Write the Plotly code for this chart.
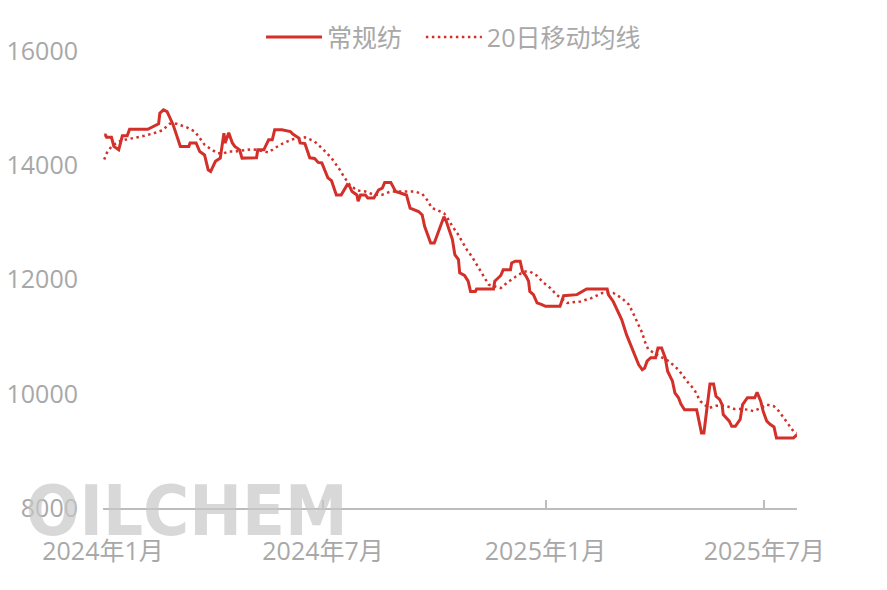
import plotly.graph_objects as go

# 常规纺 price (vertices)
price_dates = [
    "2024-01-02", "2024-01-03", "2024-01-04", "2024-01-08", "2024-01-10", "2024-01-14",
    "2024-01-17", "2024-01-21", "2024-01-23", "2024-02-07", "2024-02-16", "2024-02-17",
    "2024-02-20", "2024-02-23", "2024-02-28", "2024-03-02", "2024-03-05", "2024-03-12",
    "2024-03-13", "2024-03-18", "2024-03-21", "2024-03-25", "2024-03-28", "2024-03-30",
    "2024-04-03", "2024-04-07", "2024-04-10", "2024-04-11", "2024-04-14", "2024-04-17",
    "2024-04-19", "2024-04-23", "2024-04-25", "2024-05-07", "2024-05-08", "2024-05-13",
    "2024-05-15", "2024-05-17", "2024-05-20", "2024-05-22", "2024-05-28", "2024-06-04",
    "2024-06-06", "2024-06-11", "2024-06-12", "2024-06-16", "2024-06-20", "2024-06-24",
    "2024-06-27", "2024-06-30", "2024-07-05", "2024-07-08", "2024-07-12", "2024-07-16",
    "2024-07-21", "2024-07-23", "2024-07-25", "2024-07-29", "2024-07-30", "2024-08-01",
    "2024-08-05", "2024-08-07", "2024-08-12", "2024-08-16", "2024-08-19", "2024-08-21",
    "2024-08-26", "2024-08-30", "2024-09-08", "2024-09-11", "2024-09-18", "2024-09-21",
    "2024-09-23", "2024-09-26", "2024-09-28", "2024-10-01", "2024-10-09", "2024-10-11",
    "2024-10-14", "2024-10-16", "2024-10-18", "2024-10-21", "2024-10-22", "2024-10-26",
    "2024-10-29", "2024-10-31", "2024-11-04", "2024-11-05", "2024-11-19", "2024-11-20",
    "2024-11-25", "2024-11-27", "2024-12-03", "2024-12-04", "2024-12-07", "2024-12-11",
    "2024-12-13", "2024-12-16", "2024-12-18", "2024-12-19", "2024-12-22", "2024-12-25",
    "2024-12-29", "2025-01-01", "2025-01-13", "2025-01-16", "2025-01-27", "2025-02-04",
    "2025-02-21", "2025-02-22", "2025-02-26", "2025-03-02", "2025-03-05", "2025-03-09",
    "2025-03-14", "2025-03-16", "2025-03-19", "2025-03-22", "2025-03-24", "2025-03-26",
    "2025-03-29", "2025-04-02", "2025-04-04", "2025-04-07", "2025-04-10", "2025-04-12",
    "2025-04-16", "2025-04-18", "2025-04-21", "2025-04-23", "2025-04-26", "2025-05-06",
    "2025-05-09", "2025-05-10", "2025-05-12", "2025-05-15", "2025-05-17", "2025-05-20",
    "2025-05-22", "2025-05-25", "2025-05-27", "2025-05-28", "2025-06-02", "2025-06-04",
    "2025-06-07", "2025-06-11", "2025-06-13", "2025-06-17", "2025-06-23", "2025-06-25",
    "2025-06-28", "2025-06-30", "2025-07-03", "2025-07-06", "2025-07-09", "2025-07-11",
    "2025-07-25", "2025-07-28",
]
price_values = [
    14530, 14530, 14490, 14490, 14330, 14270,
    14515, 14515, 14630, 14630, 14725, 14910,
    14970, 14940, 14710, 14500, 14330, 14330,
    14390, 14390, 14240, 14180, 13920, 13890,
    14070, 14125, 14560, 14390, 14570, 14390,
    14330, 14270, 14125, 14130, 14270, 14270,
    14360, 14445, 14445, 14620, 14620, 14590,
    14545, 14475, 14390, 14380, 14130, 14120,
    14050, 14040, 13780, 13730, 13480, 13480,
    13660, 13630, 13540, 13480, 13370, 13480,
    13480, 13425, 13425, 13570, 13600, 13700,
    13700, 13540, 13480, 13250, 13190, 13130,
    12930, 12750, 12640, 12640, 13100, 13015,
    12840, 12700, 12435, 12350, 12115, 12070,
    11970, 11790, 11790, 11835, 11835, 11970,
    12070, 12170, 12170, 12290, 12320, 12320,
    12140, 12055, 11970, 11790, 11735, 11590,
    11560, 11530, 11530, 11715, 11735, 11835,
    11835, 11735, 11615, 11440, 11300, 11035,
    10775, 10685, 10510, 10420, 10450, 10570,
    10630, 10630, 10800, 10800, 10630, 10395,
    10220, 10015, 9930, 9820, 9720, 9720,
    9360, 9315, 9315, 9840, 10170, 10170,
    9955, 9900, 9810, 9635, 9520, 9430,
    9430, 9550, 9810, 9930, 9930, 10025,
    9870, 9695, 9520, 9460, 9420, 9225,
    9225, 9285,
]

# 20日移动均线
ma_dates = [
    "2024-01-02", "2024-01-04", "2024-01-08", "2024-01-14", "2024-01-19", "2024-01-27",
    "2024-02-04", "2024-02-12", "2024-02-19", "2024-02-25", "2024-03-02", "2024-03-10",
    "2024-03-17", "2024-03-21", "2024-03-25", "2024-03-31", "2024-04-05", "2024-04-10",
    "2024-04-14", "2024-04-19", "2024-04-26", "2024-05-03", "2024-05-07", "2024-05-17",
    "2024-05-22", "2024-05-29", "2024-06-06", "2024-06-16", "2024-06-24", "2024-07-01",
    "2024-07-08", "2024-07-14", "2024-07-19", "2024-07-23", "2024-07-29", "2024-08-05",
    "2024-08-12", "2024-08-19", "2024-08-26", "2024-09-10", "2024-09-15", "2024-09-21",
    "2024-09-25", "2024-09-29", "2024-10-03", "2024-10-09", "2024-10-12", "2024-10-16",
    "2024-10-20", "2024-10-24", "2024-10-28", "2024-11-01", "2024-11-05", "2024-11-09",
    "2024-11-15", "2024-11-25", "2024-11-30", "2024-12-07", "2024-12-14", "2024-12-19",
    "2024-12-25", "2024-12-30", "2025-01-05", "2025-01-10", "2025-01-16", "2025-01-19",
    "2025-01-30", "2025-02-08", "2025-02-17", "2025-02-26", "2025-03-05", "2025-03-11",
    "2025-03-15", "2025-03-19", "2025-03-22", "2025-03-24", "2025-03-27", "2025-04-03",
    "2025-04-13", "2025-04-21", "2025-04-28", "2025-05-04", "2025-05-09", "2025-05-16",
    "2025-05-22", "2025-05-30", "2025-06-06", "2025-06-11", "2025-06-18", "2025-06-22",
    "2025-06-28", "2025-07-03", "2025-07-09", "2025-07-13", "2025-07-17", "2025-07-21",
    "2025-07-25", "2025-07-28",
]
ma_values = [
    14100, 14210, 14330, 14415, 14445, 14475,
    14515, 14560, 14610, 14725, 14725, 14665,
    14590, 14475, 14360, 14270, 14210, 14210,
    14240, 14240, 14260, 14280, 14270, 14225,
    14300, 14385, 14455, 14490, 14415, 14280,
    14125, 13950, 13775, 13660, 13560, 13540,
    13485, 13485, 13540, 13540, 13540, 13500,
    13395, 13250, 13220, 13160, 13075, 12930,
    12810, 12665, 12520, 12405, 12260, 12115,
    11910, 11850, 11940, 12045, 12140, 12140,
    12065, 11950, 11850, 11735, 11645, 11590,
    11615, 11675, 11765, 11765, 11675, 11560,
    11385, 11210, 11065, 10920, 10775, 10685,
    10570, 10420, 10220, 10075, 9870, 9750,
    9790, 9790, 9735, 9735, 9720, 9695,
    9750, 9810, 9780, 9695, 9580, 9460,
    9345, 9315,
]

tick_dates = ["2024-01-01", "2024-07-01", "2025-01-01", "2025-07-01"]
tick_labels = ["2024年1月", "2024年7月", "2025年1月", "2025年7月"]
y_ticks = [8000, 10000, 12000, 14000, 16000]
y_tick_labels = ["8000", "10000", "12000", "14000", "16000"]

RED = "#d3302a"
GREY = "#a8a8a8"
FONT = "Open Sans, Noto Sans CJK SC, sans-serif"

fig = go.Figure()
fig.add_trace(go.Scatter(
    x=price_dates, y=price_values, name="常规纺", mode="lines",
    line=dict(color=RED, width=3), legend="legend",
))
fig.add_trace(go.Scatter(
    x=ma_dates, y=ma_values, name="20日移动均线", mode="lines",
    line=dict(color=RED, width=2.5, dash="2.5px,3.5px"), legend="legend2",
))

fig.add_annotation(
    text="<b>OILCHEM</b>", xref="paper", yref="paper", x=0.121, y=-0.006,
    xanchor="center", yanchor="middle", showarrow=False,
    font=dict(family="DejaVu Sans Condensed, DejaVu Sans, sans-serif",
              size=70, color="rgba(200,200,200,0.7)"),
)

legend_style = dict(orientation="h", xanchor="left", y=1.03, yanchor="middle",
                    font=dict(family=FONT, size=25, color=GREY),
                    itemwidth=56, bgcolor="rgba(0,0,0,0)")

# the page body adds an 8px offset, so the figure is sized to fit the window
fig.update_layout(
    width=879, height=582,
    margin=dict(l=95, r=90, t=43, b=81.5, autoexpand=False),
    paper_bgcolor="white", plot_bgcolor="white",
    font=dict(family=FONT, size=25, color=GREY),
    showlegend=True,
    legend=dict(x=0.2277, **legend_style),
    legend2=dict(x=0.458, **legend_style),
    xaxis=dict(
        type="date", range=["2024-01-01", "2025-07-28"], automargin=False,
        tickvals=tick_dates, ticktext=tick_labels,
        showgrid=False, zeroline=False,
        showline=True, linecolor="#bdbdbd", linewidth=1.5,
        ticks="inside", ticklen=8, tickcolor="#bdbdbd", tickwidth=1.5,
        ticklabelstandoff=20,
        tickfont=dict(family=FONT, size=25, color=GREY),
    ),
    yaxis=dict(
        range=[8000, 16000], tickvals=y_ticks, ticktext=y_tick_labels, automargin=False,
        showgrid=False, zeroline=False, showline=False, ticks="",
        ticklabelstandoff=24,
        tickfont=dict(family=FONT, size=25, color=GREY),
    ),
)

fig.write_html("out.html")
